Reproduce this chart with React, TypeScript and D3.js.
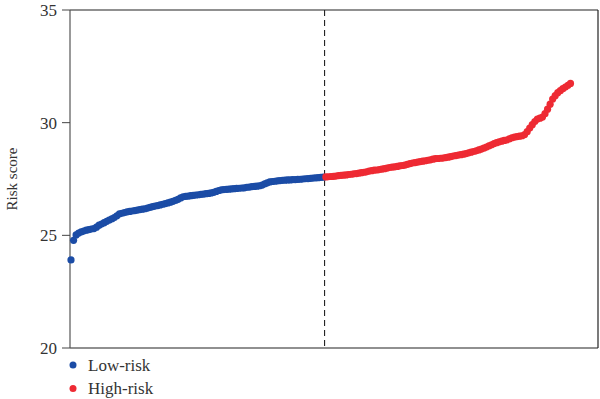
import React from 'react';
import * as d3 from 'd3';

// risk scores, sorted
const lowRisk: number[] = [
  23.91, 24.78, 25.02, 25.10, 25.15, 25.19, 25.23, 25.25, 25.28, 25.30,
  25.36, 25.45, 25.50, 25.56, 25.62, 25.68, 25.73, 25.79, 25.87, 25.95,
  25.98, 26.01, 26.04, 26.06, 26.08, 26.10, 26.12, 26.14, 26.16, 26.18,
  26.21, 26.24, 26.27, 26.30, 26.32, 26.35, 26.38, 26.41, 26.44, 26.47,
  26.51, 26.55, 26.60, 26.66, 26.71, 26.73, 26.74, 26.76, 26.77, 26.79,
  26.80, 26.82, 26.83, 26.85, 26.86, 26.88, 26.91, 26.95, 26.99, 27.02,
  27.03, 27.04, 27.05, 27.06, 27.07, 27.08, 27.09, 27.10, 27.11, 27.13,
  27.14, 27.16, 27.17, 27.18, 27.20, 27.23, 27.28, 27.33, 27.37, 27.39,
  27.40, 27.42, 27.43, 27.44, 27.45, 27.46, 27.46, 27.47, 27.47, 27.48,
  27.49, 27.50, 27.51, 27.52, 27.53, 27.54, 27.55, 27.56, 27.57, 27.58,
];

const highRisk: number[] = [
  27.59, 27.60, 27.61, 27.62, 27.63, 27.65, 27.66, 27.67, 27.68, 27.70,
  27.71, 27.73, 27.74, 27.76, 27.78, 27.80, 27.82, 27.85, 27.87, 27.89,
  27.90, 27.92, 27.94, 27.96, 27.98, 28.01, 28.03, 28.04, 28.06, 28.08,
  28.10, 28.12, 28.15, 28.18, 28.21, 28.23, 28.25, 28.27, 28.29, 28.31,
  28.33, 28.35, 28.38, 28.40, 28.41, 28.42, 28.43, 28.45, 28.47, 28.49,
  28.52, 28.54, 28.56, 28.58, 28.60, 28.63, 28.66, 28.69, 28.72, 28.75,
  28.79, 28.83, 28.87, 28.92, 28.97, 29.02, 29.07, 29.11, 29.15, 29.18,
  29.21, 29.23, 29.28, 29.33, 29.36, 29.38, 29.40, 29.42, 29.47, 29.60,
  29.76, 29.91, 30.05, 30.16, 30.20, 30.25, 30.40, 30.60, 30.82, 31.05,
  31.20, 31.33, 31.42, 31.51, 31.58, 31.66, 31.74,
];

const yTicks: number[] = [20, 25, 30, 35];
const legendLabels: string[] = ['Low-risk', 'High-risk'];
const colors: string[] = ['#1b4ca6', '#ee2a33'];

const W = 600;
const H = 399;
const left = 70;
const right = 598;
const top = 10;
const bottom = 348;
const font = 'Liberation Serif';

const App: React.FC = () => {
  const n = lowRisk.length + highRisk.length;

  const x = d3.scaleLinear().domain([0, n - 1]).range([71, 570.5]);
  const y = d3.scaleLinear().domain([20, 35]).range([bottom, top]);

  const points = [
    ...lowRisk.map((v, i) => ({ i, v, g: 0 })),
    ...highRisk.map((v, i) => ({ i: i + lowRisk.length, v, g: 1 })),
  ];

  // cut-off between the two groups
  const cutX = x(lowRisk.length - 0.5);

  return (
    <svg width={W} height={H} style={{ position: 'absolute', left: 0, top: 0, background: '#fff' }}>
      {/* frame */}
      <line x1={left} x2={right} y1={top} y2={top} stroke="#222" strokeWidth={1.2} />
      <line x1={right} x2={right} y1={top} y2={bottom} stroke="#222" strokeWidth={1.2} />
      <line x1={left} x2={right} y1={bottom} y2={bottom} stroke="#222" strokeWidth={1.2} />
      <line x1={left} x2={left} y1={top} y2={bottom} stroke="#555" strokeWidth={1.2} />

      {yTicks.map(t => (
        <g key={t}>
          <line x1={left - 8} x2={left} y1={y(t)} y2={y(t)} stroke="#444" strokeWidth={1} />
          <text x={left - 13} y={y(t)} dy="0.35em" textAnchor="end"
            style={{ fontFamily: font, fontSize: 17 }} fill="#333">{t}</text>
        </g>
      ))}

      <text transform={`translate(17,${(top + bottom) / 2}) rotate(-90)`} textAnchor="middle"
        style={{ fontFamily: font, fontSize: 15 }} fill="#333">Risk score</text>

      <line x1={cutX} x2={cutX} y1={top} y2={bottom} stroke="#222" strokeWidth={1.1} strokeDasharray="6,4" />

      {points.map(p => (
        <circle key={p.i} cx={x(p.i)} cy={y(p.v)} r={3.6} fill={colors[p.g]} />
      ))}

      {legendLabels.map((l, k) => (
        <g key={l} transform={`translate(73,${365 + k * 23.5})`}>
          <circle r={3.5} fill={colors[k]} />
          <text x={15} dy="0.35em" style={{ fontFamily: font, fontSize: 17 }} fill="#333">{l}</text>
        </g>
      ))}
    </svg>
  );
};

export default App;
